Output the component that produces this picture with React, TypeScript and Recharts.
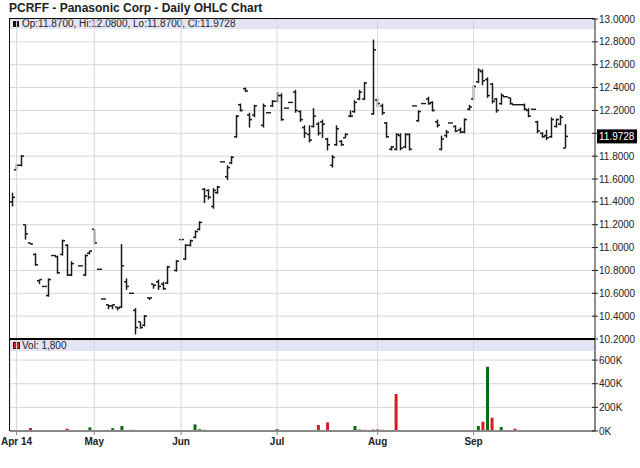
import React from "react";
import {
  ComposedChart,
  BarChart,
  Bar,
  XAxis,
  YAxis,
  CartesianGrid,
  ReferenceLine,
  Cell,
} from "recharts";

const FONT = '"Liberation Sans", Arial, Helvetica, sans-serif';

// trading-day number of each bar, counted from the first bar on the chart
const days = [
  0, 1, 2, 3, 4, 5, 6, 7, 8, 9,
  10, 11, 12, 13, 15, 16, 17, 18, 19, 20,
  21, 22, 23, 24, 25, 26, 27, 28, 29, 30,
  31, 32, 33, 34, 36, 37, 38, 39, 40, 41,
  42, 43, 44, 45, 46, 47, 48, 49, 50, 51,
  52, 53, 55, 56, 57, 58, 59, 60, 61, 62,
  63, 64, 65, 66, 67, 68, 69, 70, 71, 72,
  73, 74, 75, 76, 77, 79, 80, 81, 82, 83,
  84, 85, 86, 87, 88, 89, 90, 91, 92, 93,
  94, 95, 96, 97, 98, 99, 100, 101, 102, 103,
  104, 105, 106, 107, 108, 109, 110, 111, 112, 113,
  114, 115, 116, 117, 118, 119, 120, 121,
];

const opens = [
  11.40, 11.68, 11.72, 11.20, 11.04, 10.94, 10.71, 10.66, 10.58, 10.93,
  10.92, 10.94, 11.02, 10.76, 10.84, 10.76, 10.95, 11.16, 10.81, 10.55,
  10.50, 10.49, 10.48, 10.48, 10.70, 10.60, 10.45, 10.35, 10.32, 10.56,
  10.68, 10.70, 10.68, 10.69, 10.80, 11.07, 10.90, 11.02, 11.09, 11.16,
  11.51, 11.50, 11.36, 11.48, 11.75, 11.62, 11.74, 11.97, 12.25, 12.39,
  12.16, 12.16, 12.07, 12.18, 12.24, 12.28, 12.33, 12.22, 12.27, 12.36,
  12.19, 12.05, 11.99, 12.06, 12.08, 12.10, 11.95, 11.72, 11.90, 11.93,
  11.96, 12.15, 12.19, 12.30, 12.30, 12.17, 12.29, 12.24, 12.09, 11.86,
  11.86, 11.98, 11.88, 11.99, 12.24, 12.11, 12.26, 12.30, 12.27, 12.10,
  11.86, 11.98, 12.09, 12.06, 12.03, 12.01, 12.21, 12.30, 12.45, 12.54,
  12.47, 12.43, 12.30, 12.26, 12.32, 12.31, 12.25, 12.25, 12.25, 12.20,
  12.21, 12.10, 12.00, 11.98, 11.97, 12.06, 12.08, 11.87,
];

const highs = [
  11.48, 11.73, 11.81, 11.20, 11.04, 10.95, 10.72, 10.66, 10.73, 10.93,
  10.93, 11.07, 11.03, 10.88, 10.84, 10.94, 10.97, 11.16, 10.81, 10.55,
  10.50, 10.50, 10.48, 11.03, 10.73, 10.60, 10.47, 10.35, 10.41, 10.56,
  10.68, 10.72, 10.70, 10.84, 10.89, 11.07, 11.03, 11.07, 11.15, 11.23,
  11.52, 11.51, 11.52, 11.54, 11.75, 11.72, 11.80, 12.16, 12.26, 12.40,
  12.18, 12.25, 12.26, 12.18, 12.29, 12.36, 12.35, 12.22, 12.27, 12.38,
  12.20, 12.07, 12.07, 12.22, 12.10, 12.12, 11.96, 11.81, 12.07, 11.94,
  12.00, 12.20, 12.29, 12.38, 12.45, 12.82, 12.31, 12.26, 12.10, 11.89,
  12.00, 12.00, 12.00, 12.00, 12.24, 12.20, 12.26, 12.32, 12.28, 12.12,
  11.98, 12.03, 12.09, 12.07, 12.05, 12.13, 12.25, 12.42, 12.57, 12.56,
  12.49, 12.44, 12.31, 12.35, 12.32, 12.31, 12.25, 12.25, 12.26, 12.22,
  12.21, 12.11, 12.01, 12.03, 12.14, 12.13, 12.16, 12.08,
];

const lows = [
  11.36, 11.68, 11.71, 11.07, 11.03, 10.84, 10.68, 10.66, 10.57, 10.93,
  10.77, 10.93, 10.75, 10.75, 10.84, 10.75, 10.94, 11.03, 10.81, 10.55,
  10.46, 10.46, 10.45, 10.47, 10.63, 10.60, 10.24, 10.29, 10.31, 10.54,
  10.64, 10.63, 10.63, 10.68, 10.79, 11.07, 10.89, 11.01, 11.08, 11.15,
  11.39, 11.42, 11.34, 11.47, 11.75, 11.59, 11.73, 11.96, 12.19, 12.36,
  12.05, 12.14, 12.05, 12.18, 12.23, 12.27, 12.11, 12.22, 12.27, 12.18,
  12.10, 11.96, 11.92, 12.05, 11.98, 11.96, 11.85, 11.70, 11.89, 11.89,
  11.96, 12.14, 12.18, 12.29, 12.29, 12.16, 12.23, 12.16, 11.96, 11.85,
  11.85, 11.85, 11.87, 11.85, 12.24, 12.10, 12.26, 12.25, 12.19, 12.05,
  11.85, 11.96, 12.09, 12.01, 12.00, 12.00, 12.20, 12.29, 12.44, 12.42,
  12.31, 12.26, 12.18, 12.25, 12.32, 12.25, 12.25, 12.25, 12.20, 12.14,
  12.21, 12.00, 11.96, 11.94, 11.96, 12.05, 12.07, 11.87,
];

const closes = [
  11.44, 11.72, 11.80, 11.12, 11.03, 10.85, 10.72, 10.66, 10.72, 10.93,
  10.78, 11.06, 10.76, 10.86, 10.84, 10.93, 10.97, 11.04, 10.81, 10.55,
  10.49, 10.50, 10.47, 10.84, 10.66, 10.60, 10.30, 10.30, 10.40, 10.56,
  10.67, 10.66, 10.64, 10.83, 10.88, 11.07, 11.02, 11.06, 11.14, 11.22,
  11.45, 11.44, 11.50, 11.53, 11.75, 11.70, 11.79, 12.15, 12.20, 12.37,
  12.12, 12.24, 12.24, 12.18, 12.28, 12.33, 12.12, 12.22, 12.27, 12.20,
  12.12, 12.00, 11.94, 12.15, 12.00, 12.08, 11.90, 11.79, 12.04, 11.90,
  11.99, 12.15, 12.27, 12.36, 12.44, 12.73, 12.26, 12.18, 11.97, 11.88,
  11.99, 11.87, 11.99, 11.86, 12.24, 12.19, 12.26, 12.26, 12.20, 12.07,
  11.95, 12.01, 12.09, 12.02, 12.01, 12.12, 12.23, 12.41, 12.55, 12.46,
  12.33, 12.28, 12.20, 12.33, 12.32, 12.26, 12.25, 12.25, 12.21, 12.15,
  12.21, 12.02, 11.97, 11.96, 12.12, 12.12, 12.14, 11.9728,
];

// volume: day number, shares, 1 = up day (green), 0 = down day (red)
const volDays = [
  0, 3, 4, 12, 17, 22, 23, 24, 26, 31,
  32, 40, 41, 42, 44, 45, 48, 49, 53, 55,
  58, 59, 66, 67, 69, 70, 71, 75, 76, 77,
  79, 80, 81, 84, 86, 97, 101, 102, 103, 104,
  105, 107, 110, 118, 121,
];
const volValues = [
  8000, 8000, 25000, 20000, 31000, 23000, 8000, 42000, 10000, 8000,
  8000, 56000, 15000, 10000, 8000, 8000, 8000, 8000, 8000, 8000,
  15000, 8000, 8000, 51000, 73000, 8000, 8000, 42000, 12000, 10000,
  12000, 14000, 10000, 313000, 8000, 8000, 8000, 42000, 79000, 544000,
  113000, 34000, 20000, 8000, 1800,
];
const volUp = [
  0, 1, 0, 0, 1, 1, 0, 1, 1, 1,
  1, 1, 1, 1, 1, 1, 1, 1, 0, 0,
  1, 1, 0, 0, 0, 1, 1, 1, 1, 0,
  1, 0, 0, 0, 1, 0, 1, 1, 0, 1,
  0, 1, 0, 1, 1,
];

const priceTicks = [10.2, 10.4, 10.6, 10.8, 11.0, 11.2, 11.4, 11.6, 11.8, 12.0, 12.2, 12.4, 12.6, 12.8, 13.0];
const volTicks = [0, 200000, 400000, 600000];
const monthTicks = [1, 18, 37, 58, 80, 101];
const monthLabels = ["Apr 14", "May", "Jun", "Jul", "Aug", "Sep"];

const X_DOMAIN: [number, number] = [-0.44, 127.57];
const GRID = "#d7d7d7";
const LAVENDER = "#e4e4f7";
const UP = "#0b6b12";
const DOWN = "#d02020";

const priceData = days.map((t, i) => ({
  t,
  open: opens[i],
  high: highs[i],
  low: lows[i],
  close: closes[i],
  range: [lows[i], highs[i]],
}));
const volData = volDays.map((t, i) => ({ t, v: volValues[i], up: volUp[i] === 1 }));
const last = priceData[priceData.length - 1];
const lastVol = volData[volData.length - 1].v;

function OhlcBar(props: any) {
  const { x, y, width, height, payload } = props;
  if (x == null || y == null || !payload) return null;
  const top = Math.min(y, y + (height || 0));
  const h = Math.abs(height || 0);
  const cx = Math.round(x + width / 2) + 0.5;
  const span = payload.high - payload.low;
  const at = (v: number) => (span > 0 ? top + ((payload.high - v) / span) * h : top);
  if (h < 1) {
    return <line x1={cx - 2.5} x2={cx + 2.5} y1={top} y2={top} stroke="#1a1a1a" strokeWidth={1.4} />;
  }
  const yo = at(payload.open);
  const yc = at(payload.close);
  return (
    <g stroke="#1a1a1a" strokeWidth={1.5}>
      <line x1={cx} x2={cx} y1={top} y2={top + h} />
      <line x1={cx - 2.5} x2={cx} y1={yo} y2={yo} />
      <line x1={cx} x2={cx + 2.5} y1={yc} y2={yc} />
    </g>
  );
}

function PriceTick(props: any) {
  const { x, y, payload } = props;
  const v = payload.value as number;
  const ax = x - 4;
  return (
    <g>
      <line x1={ax - 3} x2={ax + 3} y1={y} y2={y} stroke="#222" />
      {Math.abs(v - last.close) > 0.06 && (
        <text x={x} y={y} dy={3.6} fontSize={10} fontFamily={FONT} fill="#222">
          {v.toFixed(4)}
        </text>
      )}
    </g>
  );
}

function VolTick(props: any) {
  const { x, y, payload } = props;
  const v = payload.value as number;
  const ax = x - 4;
  return (
    <g>
      <line x1={ax - 3} x2={ax + 3} y1={y} y2={y} stroke="#222" />
      <text x={x} y={y} dy={3.6} fontSize={10} fontFamily={FONT} fill="#222">
        {`${v / 1000}K`}
      </text>
    </g>
  );
}

function MonthTick(props: any) {
  const { x, y, payload } = props;
  const i = monthTicks.indexOf(payload.value);
  return (
    <text x={x} y={y} dy={8} textAnchor="middle" fontSize={10} fontWeight="bold" fontFamily={FONT} fill="#222">
      {monthLabels[i]}
    </text>
  );
}

function LastPriceLabel(props: any) {
  const vb = props.viewBox || {};
  const x = (vb.x || 0) + (vb.width || 0) + 2;
  const y = vb.y || 0;
  return (
    <g>
      <rect x={x} y={y - 7} width={40} height={14} fill="#000" />
      <text x={x + 2} y={y} dy={3.6} fontSize={10} fontFamily={FONT} fill="#fff">
        {last.close.toFixed(4)}
      </text>
    </g>
  );
}

export default function App() {
  const abs = (s: React.CSSProperties): React.CSSProperties => ({ position: "absolute", ...s });
  return (
    <div style={abs({ left: 0, top: 0, width: 640, height: 468, background: "#fff", fontFamily: FONT, overflow: "hidden" })}>
      {/* title and legend strips, behind the charts */}
      <div style={abs({ left: 9, top: 0, fontSize: 12, fontWeight: "bold", color: "#222", lineHeight: "16px" })}>
        PCRFF - Panasonic Corp - Daily OHLC Chart
      </div>
      <div style={abs({ left: 10, top: 18, width: 585, height: 11, background: LAVENDER })} />
      <div style={abs({ left: 13, top: 21, width: 6, height: 6, background: "#111" })} />
      <div style={abs({ left: 22, top: 17, fontSize: 10, color: "#222", lineHeight: "13px" })}>
        {`Op:${last.open.toFixed(4)}, Hi:${last.high.toFixed(4)}, Lo:${last.low.toFixed(4)}, Cl:${last.close.toFixed(4)}`}
      </div>
      <div style={abs({ left: 10, top: 340, width: 585, height: 11, background: LAVENDER })} />
      <div style={abs({ left: 13, top: 342, width: 5, height: 5, background: DOWN, border: "1px solid #600" })} />
      <div style={abs({ left: 22, top: 339, fontSize: 10, color: "#222", lineHeight: "13px" })}>
        {`Vol: ${lastVol.toLocaleString("en-US")}`}
      </div>

      <div style={abs({ left: 0, top: 0 })}>
        <ComposedChart width={640} height={345} data={priceData} margin={{ top: 19, right: 0, left: 10, bottom: 6 }}>
          <CartesianGrid horizontal vertical={false} stroke={GRID} />
          {monthTicks.map((t) => (
            <ReferenceLine key={t} x={t} stroke={GRID} />
          ))}
          <XAxis dataKey="t" type="number" domain={X_DOMAIN} ticks={monthTicks} allowDataOverflow hide />
          <YAxis
            orientation="right"
            width={45}
            domain={[10.2, 13.0]}
            ticks={priceTicks}
            interval={0}
            allowDataOverflow
            tickSize={0}
            tickMargin={4}
            tickLine={false}
            axisLine={{ stroke: "#222" }}
            tick={<PriceTick />}
          />
          <ReferenceLine y={last.close} stroke="none" label={<LastPriceLabel />} />
          <Bar dataKey="range" barSize={4} shape={<OhlcBar />} isAnimationActive={false} />
        </ComposedChart>
      </div>

      <div style={abs({ left: 0, top: 339 })}>
        <BarChart width={640} height={129} data={volData} margin={{ top: 1, right: 0, left: 10, bottom: 7 }}>
          <CartesianGrid stroke={GRID} />
          <XAxis
            dataKey="t"
            type="number"
            domain={X_DOMAIN}
            ticks={monthTicks}
            interval={0}
            allowDataOverflow
            height={30}
            tickSize={4}
            tickMargin={2}
            tickLine={{ stroke: "#888" }}
            axisLine={{ stroke: "#888", strokeWidth: 2 }}
            tick={<MonthTick />}
          />
          <YAxis
            orientation="right"
            width={45}
            domain={[0, 770000]}
            ticks={volTicks}
            interval={0}
            allowDataOverflow
            tickSize={0}
            tickMargin={4}
            tickLine={false}
            axisLine={{ stroke: "#222" }}
            tick={<VolTick />}
          />
          <Bar dataKey="v" barSize={3} isAnimationActive={false}>
            {volData.map((d) => (
              <Cell key={d.t} fill={d.up ? UP : DOWN} />
            ))}
          </Bar>
        </BarChart>
      </div>

      {/* frame lines on top */}
      <div style={abs({ left: 9, top: 18, width: 586, height: 1, background: "#111" })} />
      <div style={abs({ left: 9, top: 18, width: 1, height: 413, background: "#111" })} />
      <div style={abs({ left: 9, top: 338, width: 586, height: 2, background: "#000" })} />
    </div>
  );
}
